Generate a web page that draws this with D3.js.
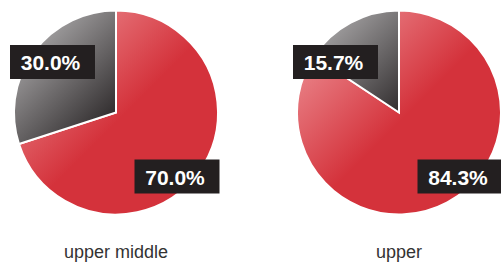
<!DOCTYPE html>
<html>
<head>
<meta charset="utf-8">
<script src="https://cdn.jsdelivr.net/npm/d3@7"></script>
<style>
	html, body { margin: 0; padding: 0; background: #fff; }
	svg { display: block; }
</style>
</head>
<body>
<div id="chart"></div>
<script>
// data
const groups = ['upper middle', 'upper'];
const mainShare = [70.0, 84.3];   // red slice
const otherShare = [30.0, 15.7];  // dark slice

const width = 501,
	height = 267,
	radius = 102,
	cy = 112.5;

const svg = d3.select('#chart')
	.append('svg')
	.attr('width', width)
	.attr('height', height);

const xScale = d3.scalePoint()
	.domain(groups)
	.range([116, 399]);

const colors = {
	main: { light: '#ec8c91', base: '#d4323b' },
	other: { light: '#a8a6a7', base: '#2a2627' }
};

const defs = svg.append('defs');

const pie = d3.pie()
	.sort(null)
	.value(d => d.value);

const arc = d3.arc()
	.innerRadius(0)
	.outerRadius(radius);

// label box offsets from the pie centre
const labelPos = {
	main: [61, 64],
	other: [-63.5, -50.5]
};

groups.forEach((g, i) => {
	const cx = xScale(g);
	const slices = [
		{ key: 'main', value: mainShare[i] },
		{ key: 'other', value: otherShare[i] }
	];

	// gradients, light top-left to base near the centre (group coords)
	slices.forEach(s => {
		const grad = defs.append('linearGradient')
			.attr('id', `grad-${s.key}-${i}`)
			.attr('gradientUnits', 'userSpaceOnUse')
			.attr('x1', -radius * 0.8)
			.attr('y1', -radius * 0.8)
			.attr('x2', radius * 0.05)
			.attr('y2', radius * 0.05);
		grad.append('stop').attr('offset', 0).attr('stop-color', colors[s.key].light);
		grad.append('stop').attr('offset', 1).attr('stop-color', colors[s.key].base);
	});

	const chart = svg.append('g')
		.attr('transform', `translate(${cx}, ${cy})`);

	chart.selectAll('path')
		.data(pie(slices))
		.join('path')
		.attr('d', arc)
		.attr('fill', d => `url(#grad-${d.data.key}-${i})`)
		.attr('stroke', '#fff')
		.attr('stroke-width', 2)
		.attr('stroke-linejoin', 'miter');

	const labels = chart.selectAll('g.label')
		.data(slices)
		.join('g')
		.attr('class', 'label')
		.attr('transform', d => `translate(${labelPos[d.key][0]}, ${labelPos[d.key][1]})`);

	labels.append('rect')
		.attr('x', -42.5)
		.attr('y', -17)
		.attr('width', 85)
		.attr('height', 34)
		.attr('fill', '#231f20');

	labels.append('text')
		.text(d => d3.format('.1f')(d.value) + '%')
		.attr('x', -2)
		.attr('y', 8)
		.attr('text-anchor', 'middle')
		.style('font-family', 'Liberation Sans, Arial, sans-serif')
		.style('font-size', '21px')
		.style('font-weight', 'bold')
		.attr('fill', '#fff');

	svg.append('text')
		.text(g)
		.attr('x', cx)
		.attr('y', 258)
		.attr('text-anchor', 'middle')
		.style('font-family', 'Liberation Sans, Arial, sans-serif')
		.style('font-size', '18px')
		.attr('fill', '#333');
});
</script>
</body>
</html>
